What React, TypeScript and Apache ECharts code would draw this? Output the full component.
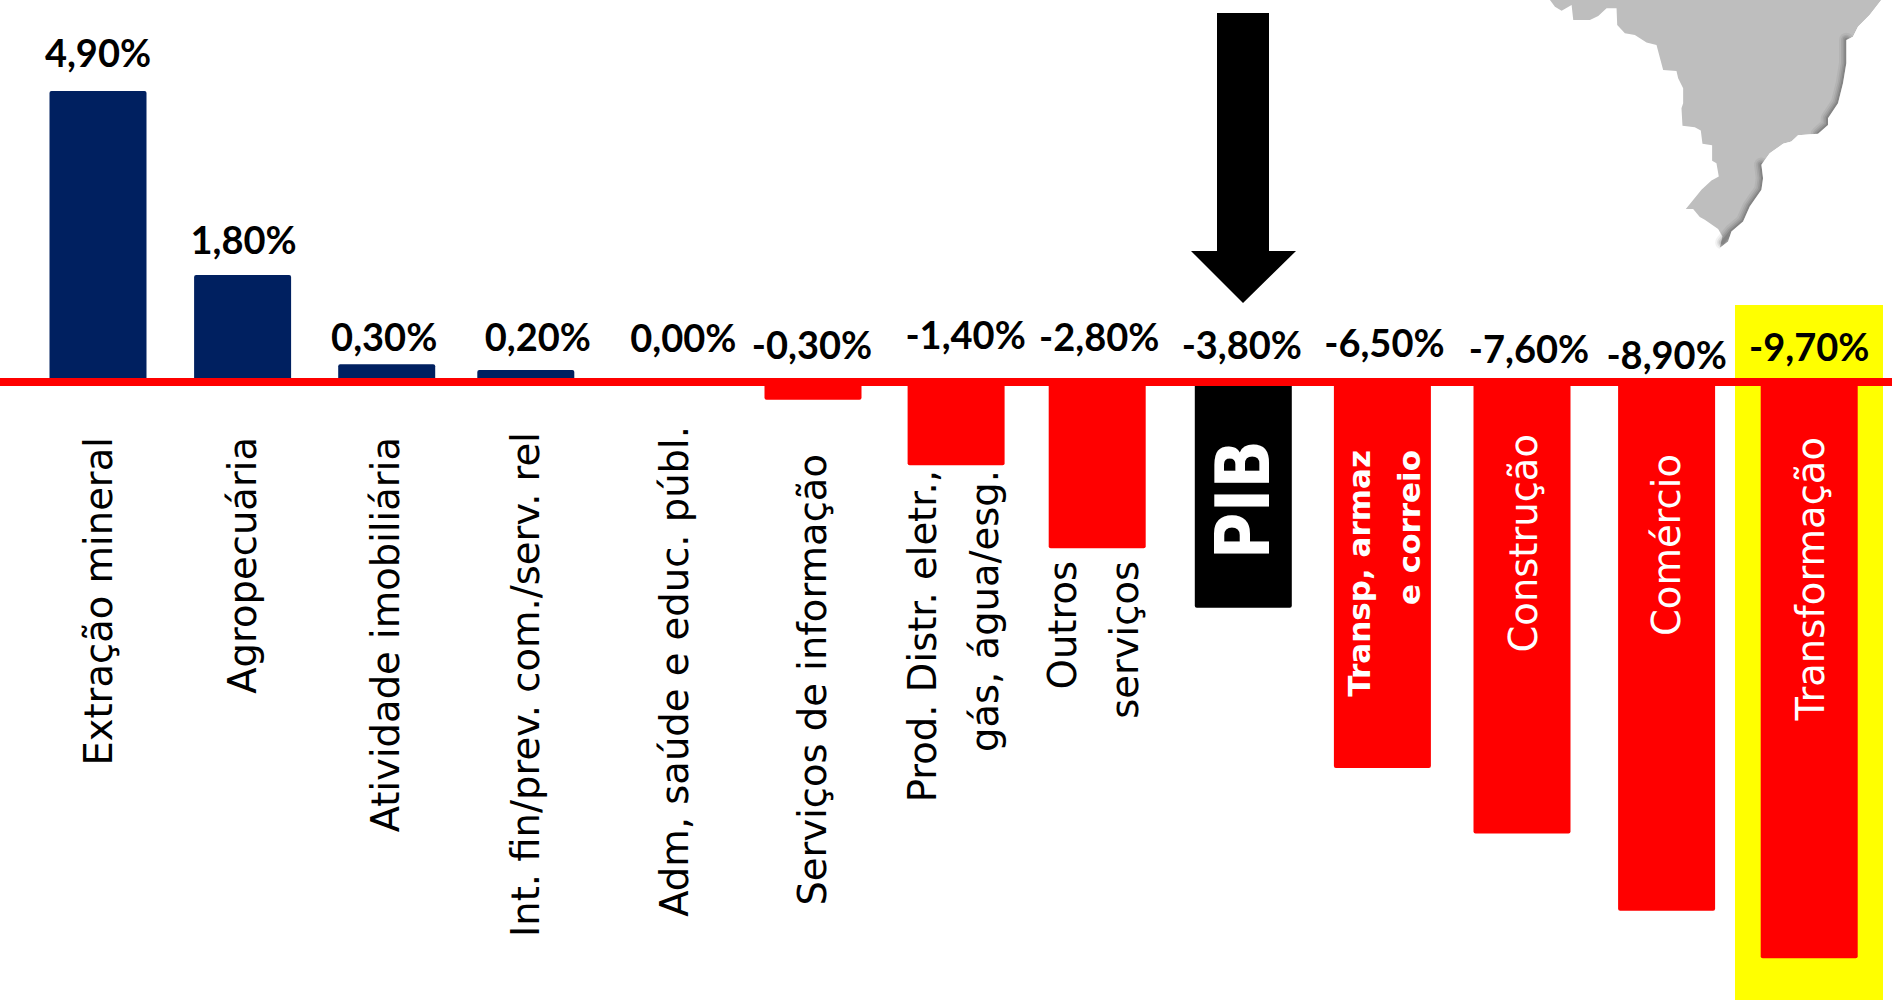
import React, { useEffect, useRef } from "react";
import * as echarts from "echarts";

// Variação por setor (%)
const categories = [
  "Extração mineral",
  "Agropecuária",
  "Atividade imobiliária",
  "Int. fin/prev. com./serv. rel",
  "Adm, saúde e educ. públ.",
  "Serviços de informação",
  "Prod. Distr. eletr.,\ngás, água/esg.",
  "Outros\nserviços",
  "PIB",
  "Transp, armaz\ne correio",
  "Construção",
  "Comércio",
  "Transformação",
];
const values = [4.9, 1.8, 0.3, 0.2, 0, -0.3, -1.4, -2.8, -3.8, -6.5, -7.6, -8.9, -9.7];

// Ajuste horizontal de cada barra, em pixels
const barShifts = [0, 2, 3.5, 0, 0, 2, 2.5, 1, 4.5, 1, -2, 0, 0];
// Deslocamento em pixels de cada rótulo em relação à posição da categoria e à linha do zero
const valueLabelOffsets = [
  [0, -330], [3, -143], [1, -46], [12, -46], [15, -45], [1, -38], [12, -48],
  [3, -46], [3, -38], [3, -40], [5, -34], [0, -28], [0, -36],
];
const nameOffsets = [
  [0, 55], [2, 55], [2, 55], [0, 50], [6, 44], [1, 72], [0, 88],
  [-3, 179], [4, 58], [3, 68], [-1, 52], [0, 72], [1, 55],
];

const NAVY = "#002060";
const RED = "#FF0000";
const INDEX_PIB = categories.indexOf("PIB");
const INDEX_TRANSP = 9;
const INSIDE_BAR = [8, 9, 10, 11, 12];

// Contorno do território, em coordenadas locais do desenho (escala 3:1)
const westCoast = [
  [150, 0], [165, 20], [185, 32], [215, 15], [220, 60], [270, 60], [295, 48], [320, 25], [350, 25],
  [352, 75], [375, 100], [405, 105], [440, 128], [470, 135], [482, 180], [490, 210], [530, 213],
  [535, 235], [550, 265], [550, 310], [545, 325], [548, 378], [585, 382], [603, 392], [608, 432],
  [637, 436], [637, 483], [650, 490], [657, 530], [635, 542], [605, 570], [558, 628], [580, 628],
  [600, 652], [615, 660], [655, 688], [668, 710],
];
const eastCoast = [
  [660, 745], [685, 725], [695, 695], [730, 665], [750, 620], [785, 570], [790, 535], [785, 495],
  [810, 460], [850, 432], [875, 425], [895, 406], [955, 402], [985, 375], [985, 355], [1015, 310],
  [1030, 250], [1040, 190], [1040, 120], [1060, 110], [1075, 80], [1110, 45], [1145, 0],
];
const shadedCoast = [
  [[668, 728], [695, 695], [730, 665], [750, 620], [785, 570], [790, 535], [785, 495]],
  [[955, 402], [985, 375], [985, 355], [1015, 310], [1030, 250], [1040, 190], [1040, 120]],
];

function coastShade(): any[] {
  const layers = [
    { width: 44, alpha: 0.05 },
    { width: 32, alpha: 0.07 },
    { width: 22, alpha: 0.09 },
    { width: 12, alpha: 0.12 },
  ];
  return shadedCoast.flatMap((points) =>
    layers.map((layer) => ({
      type: "polyline",
      shape: { points },
      style: { fill: "none", stroke: `rgba(0,0,0,${layer.alpha})`, lineWidth: layer.width, lineJoin: "round", lineCap: "round" },
    }))
  );
}

export default function App() {
  const ref = useRef<HTMLDivElement>(null);

  useEffect(() => {
    const chart = echarts.init(ref.current!, undefined, { renderer: "svg" });
    const pxPerUnit = 59.4;
    const zeroY = 382;
    const pxPerStep = 142.6;
    const firstX = 98;

    const valueText = (v: number) => `${v.toFixed(2).replace(".", ",")}%`;

    chart.setOption({
      animation: false,
      backgroundColor: "#ffffff",
      grid: { left: 0, right: 0, top: 0, bottom: 0 },
      xAxis: {
        type: "value",
        min: -firstX / pxPerStep,
        max: (1892 - firstX) / pxPerStep,
        z: 5,
        axisLine: { show: true, onZero: true, lineStyle: { color: RED, width: 8 } },
        axisTick: { show: false },
        axisLabel: { show: false },
        splitLine: { show: false },
      },
      yAxis: {
        type: "value",
        min: -(1002 - zeroY) / pxPerUnit,
        max: zeroY / pxPerUnit,
        show: false,
        splitLine: { show: false },
      },
      graphic: {
        z: 0,
        elements: [
          { type: "rect", shape: { x: 1735, y: 305, width: 148, height: 695 }, style: { fill: "#FFFF00" } },
          {
            type: "polygon",
            shape: {
              points: [[1217, 13], [1269, 13], [1269, 251], [1296, 251], [1243, 303], [1191, 251], [1217, 251]],
            },
            style: { fill: "#000000" },
          },
          {
            type: "group",
            x: 1500,
            y: 0,
            scaleX: 1 / 3,
            scaleY: 1 / 3,
            children: [
              { type: "polygon", shape: { points: [...westCoast, ...eastCoast] }, style: { fill: "#BEBEBE" } },
              ...coastShade(),
              {
                type: "polygon",
                shape: { points: [...eastCoast, [1176, 0], [1176, 900], [660, 900]] },
                style: { fill: "#ffffff" },
              },
            ],
          },
        ],
      },
      series: [
        {
          type: "bar",
          barWidth: 97,
          z: 2,
          data: values.map((v, i) => ({
            value: [i + barShifts[i] / pxPerStep, v],
            itemStyle: {
              color: i === INDEX_PIB ? "#000000" : v >= 0 ? NAVY : RED,
              borderRadius: 2,
            },
          })),
        },
        {
          // Percentuais acima da linha do zero
          type: "custom",
          z: 6,
          clip: false,
          data: values.map((v, i) => [i, 0, v]),
          renderItem: (params: any, api: any) => {
            const i = params.dataIndex;
            const p = api.coord([api.value(0), 0]);
            return {
              type: "text",
              x: p[0] + valueLabelOffsets[i][0],
              y: p[1] + valueLabelOffsets[i][1],
              style: {
                text: valueText(api.value(2)),
                font: "bold 38px Lato",
                fill: "#000000",
                align: "center",
                verticalAlign: "middle",
              },
            };
          },
        },
        {
          // Nomes dos setores, na vertical
          type: "custom",
          z: 6,
          clip: false,
          data: values.map((_, i) => [i, 0]),
          renderItem: (params: any, api: any) => {
            const i = params.dataIndex;
            const p = api.coord([api.value(0), 0]);
            const isPib = i === INDEX_PIB;
            const isTransp = i === INDEX_TRANSP;
            const font = isPib
              ? 'bold 64px "DejaVu Sans"'
              : isTransp
              ? 'bold 31px "DejaVu Sans"'
              : '38.5px "DejaVu Sans"';
            return {
              type: "text",
              x: p[0] + nameOffsets[i][0],
              y: p[1] + nameOffsets[i][1],
              rotation: Math.PI / 2,
              scaleY: isPib ? 1.17 : 1,
              style: {
                text: categories[i],
                font,
                lineHeight: isTransp ? 50 : 62,
                fill: INSIDE_BAR.includes(i) ? "#ffffff" : "#000000",
                align: "right",
                verticalAlign: "middle",
              },
            };
          },
        },
      ],
    });
    return () => chart.dispose();
  }, []);

  return <div ref={ref} style={{ position: "fixed", left: 0, top: 0, width: 1892, height: 1002 }} />;
}
